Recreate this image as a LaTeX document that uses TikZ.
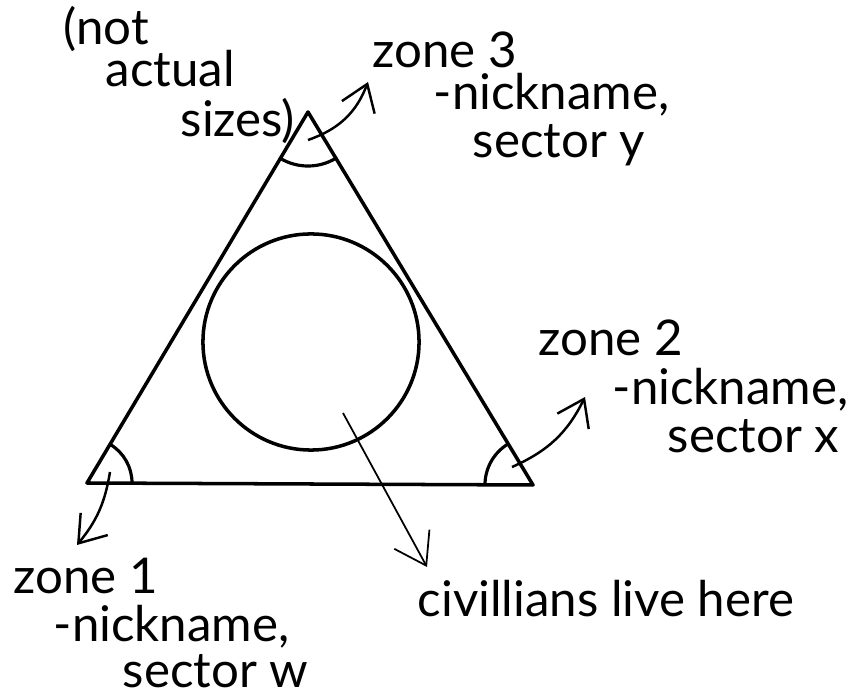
\documentclass[tikz,border=0pt]{standalone}
\usepackage{fontspec}
\setmainfont{Lato}
\usetikzlibrary{arrows.meta, angles}

\begin{document}
\begin{tikzpicture}[
	x=0.01cm, y=0.01cm,
	hand/.style={
		font=\fontsize{14}{16}\selectfont,
		anchor=base west,
		inner sep=0pt
	},
	wall/.style={
		line width=1pt,
		line join=round
	},
	corner/.style={
		draw,
		line width=0.9pt
	},
	pointer/.style={
		line width=0.7pt,
		-{Straight Barb[length=2.5mm, width=3.5mm]}
	},
	thinpointer/.style={
		line width=0.5pt,
		-{Straight Barb[length=3mm, width=4mm]}
	}
	]
	\useasboundingbox (0,0) rectangle (866,697);

	% the triangle and the town in its middle
	\coordinate (top) at (308,585);
	\coordinate (left) at (87,214);
	\coordinate (right) at (533,212);
	\draw[wall] (top) -- (left) -- (right) -- cycle;
	\node[circle, draw, line width=1pt, minimum size=2.16cm, inner sep=0pt] (town) at (311,355) {};

	\pic[corner, angle radius=0.54cm] {angle = left--top--right};
	\pic[corner, angle radius=0.45cm] {angle = right--left--top};
	\pic[corner, angle radius=0.48cm] {angle = top--right--left};

	% texts
	\node[hand] (note1) at (63,652) {(not};
	\node[hand] (note2) at (105,610) {actual};
	\node[hand] (note3) at (180,560) {sizes)};

	\node[hand] (zone3) at (372,629) {zone 3};
	\node[hand] (nick3) at (433,587) {-nickname,};
	\node[hand] (sect3) at (472,539) {sector y};

	\node[hand] (zone2) at (538,341) {zone 2};
	\node[hand] (nick2) at (612,292) {-nickname,};
	\node[hand] (sect2) at (667,244) {sector x};

	\node[hand] (zone1) at (13,103) {zone 1};
	\node[hand] (nick1) at (53,55) {-nickname,};
	\node[hand] (sect1) at (122,9) {sector w};

	\node[hand] (civil) at (417,80) {civillians live here};

	% arrows
	\coordinate (z3from) at (308,557);
	\coordinate (z3to) at (368,615);
	\coordinate (z2from) at (512,230);
	\coordinate (z2to) at (585,300);
	\coordinate (z1from) at (110,225);
	\coordinate (z1to) at (77,152);
	\coordinate (civfrom) at (343,284);
	\coordinate (civto) at (427,130);

	\draw[pointer] (z3from) to[bend right=25] (z3to);
	\draw[pointer] (z2from) to[bend right=20] (z2to);
	\draw[pointer] (z1from) to[bend left=15] (z1to);
	\draw[thinpointer] (civfrom) -- (civto);
\end{tikzpicture}
\end{document}
